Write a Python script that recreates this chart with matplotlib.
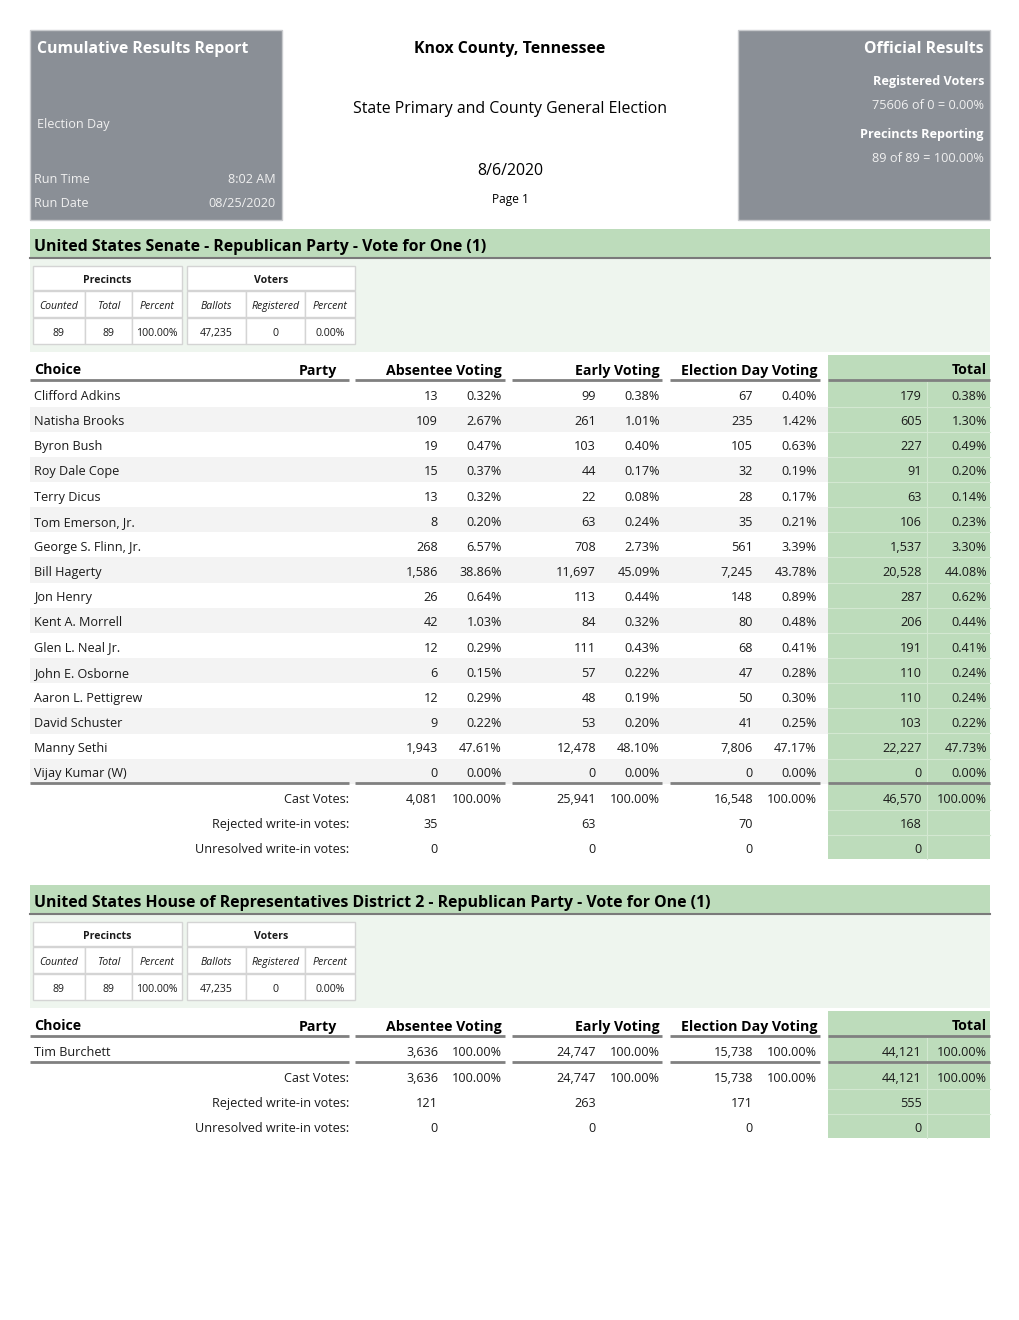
import matplotlib.pyplot as plt
from matplotlib.patches import Rectangle

plt.rcParams['font.family'] = ['Open Sans', 'DejaVu Sans']

# report header
report_title = "Cumulative Results Report"
county = "Knox County, Tennessee"
election_name = "State Primary and County General Election"
election_date = "8/6/2020"
run_time = "8:02 AM"
run_date = "08/25/2020"
registered_text = "75606 of 0 = 0.00%"
precincts_text = "89 of 89 = 100.00%"

# precinct / voter summary (same for both contests)
precinct_vals = ["89", "89", "100.00%"]
voter_vals = ["47,235", "0", "0.00%"]

# contest 1: US Senate
senate_title = "United States Senate - Republican Party - Vote for One (1)"
senate_names = ["Clifford Adkins", "Natisha Brooks", "Byron Bush", "Roy Dale Cope",
                "Terry Dicus", "Tom Emerson, Jr.", "George S. Flinn, Jr.", "Bill Hagerty",
                "Jon Henry", "Kent A. Morrell", "Glen L. Neal Jr.", "John E. Osborne",
                "Aaron L. Pettigrew", "David Schuster", "Manny Sethi", "Vijay Kumar (W)"]
senate_absentee = [13, 109, 19, 15, 13, 8, 268, 1586, 26, 42, 12, 6, 12, 9, 1943, 0]
senate_absentee_pct = [0.32, 2.67, 0.47, 0.37, 0.32, 0.20, 6.57, 38.86, 0.64, 1.03,
                       0.29, 0.15, 0.29, 0.22, 47.61, 0.00]
senate_early = [99, 261, 103, 44, 22, 63, 708, 11697, 113, 84, 111, 57, 48, 53, 12478, 0]
senate_early_pct = [0.38, 1.01, 0.40, 0.17, 0.08, 0.24, 2.73, 45.09, 0.44, 0.32,
                    0.43, 0.22, 0.19, 0.20, 48.10, 0.00]
senate_eday = [67, 235, 105, 32, 28, 35, 561, 7245, 148, 80, 68, 47, 50, 41, 7806, 0]
senate_eday_pct = [0.40, 1.42, 0.63, 0.19, 0.17, 0.21, 3.39, 43.78, 0.89, 0.48,
                   0.41, 0.28, 0.30, 0.25, 47.17, 0.00]
senate_total = [179, 605, 227, 91, 63, 106, 1537, 20528, 287, 206, 191, 110, 110, 103, 22227, 0]
senate_total_pct = [0.38, 1.30, 0.49, 0.20, 0.14, 0.23, 3.30, 44.08, 0.62, 0.44,
                    0.41, 0.24, 0.24, 0.22, 47.73, 0.00]
senate_cast = [4081, 25941, 16548, 46570]
senate_rejected = [35, 63, 70, 168]
senate_unresolved = [0, 0, 0, 0]

# contest 2: US House District 2
house_title = "United States House of Representatives District 2 - Republican Party - Vote for One (1)"
house_names = ["Tim Burchett"]
house_absentee = [3636]
house_absentee_pct = [100.00]
house_early = [24747]
house_early_pct = [100.00]
house_eday = [15738]
house_eday_pct = [100.00]
house_total = [44121]
house_total_pct = [100.00]
house_cast = [3636, 24747, 15738, 44121]
house_rejected = [121, 263, 171, 555]
house_unresolved = [0, 0, 0, 0]

GREY_BOX = '#8a8f96'
GREEN = '#bddcbb'
PALE = '#eef5ee'
TXT = '#1a1a1a'
FS = 9.1
BIG = 11.4

fig = plt.figure(figsize=(10.2, 13.2), dpi=100)
ax = fig.add_axes([0, 0, 1, 1])
ax.set_xlim(0, 1020)
ax.set_ylim(1320, 0)
ax.axis('off')


def txt(x, y, s, ha='left', size=FS, weight='normal', color=TXT, style='normal'):
    ax.text(x, y, s, ha=ha, va='center_baseline', fontsize=size, fontweight=weight,
            color=color, style=style)


# ---- page header ----
for x0 in (30, 738):
    ax.add_patch(Rectangle((x0, 30), 252, 190, facecolor=GREY_BOX,
                           edgecolor='#c9cbce', lw=1))
txt(37, 47, report_title, size=BIG, weight='bold', color='white')
txt(37, 123, "Election Day", color='#f0f0f0')
txt(34, 178, "Run Time", color='#f0f0f0')
txt(276, 178, run_time, ha='right', color='#f0f0f0')
txt(34, 202, "Run Date", color='#f0f0f0')
txt(276, 202, run_date, ha='right', color='#f0f0f0')

txt(984, 47, "Official Results", ha='right', size=BIG, weight='bold', color='white')
txt(984, 80, "Registered Voters", ha='right', size=9.1, weight='bold', color='white')
txt(984, 104, registered_text, ha='right', size=9.2, color='#f0f0f0')
txt(984, 133, "Precincts Reporting", ha='right', size=9.1, weight='bold', color='white')
txt(984, 157, precincts_text, ha='right', size=9.2, color='#f0f0f0')

txt(510, 47, county, ha='center', size=BIG, weight='bold', color='black')
txt(510, 107, election_name, ha='center', size=BIG, color='black')
txt(510, 169, election_date, ha='center', size=BIG, color='black')
txt(510, 198, "Page 1", ha='center', size=8.6, color='black')

# column layout
seg = [(30, 349), (355, 505), (512, 662), (670, 820), (828, 990)]
vote_x = [438, 596, 753, 922]
pct_x = [502, 660, 817, 987]
STEP = 25.15


def summary_box(y0):
    boxes = [((33, 85, 132, 182), "Precincts", ["Counted", "Total", "Percent"], precinct_vals),
             ((187, 246, 305, 355), "Voters", ["Ballots", "Registered", "Percent"], voter_vals)]
    for edges, head, subs, vals in boxes:
        ax.add_patch(Rectangle((edges[0], y0 + 37), edges[-1] - edges[0], 24,
                               facecolor='white', edgecolor='#d4d4d4', lw=1))
        txt((edges[0] + edges[-1]) / 2, y0 + 50, head, ha='center', size=7.6, weight='bold')
        for i in range(3):
            for yy, s, st in [(y0 + 62, subs[i], 'italic'), (y0 + 89, vals[i], 'normal')]:
                ax.add_patch(Rectangle((edges[i], yy), edges[i + 1] - edges[i], 26,
                                       facecolor='white', edgecolor='#d4d4d4', lw=1))
                txt((edges[i] + edges[i + 1]) / 2, yy + 14, s, ha='center', size=7.6, style=st)


def contest(y0, title, names, cols, cast, rejected, unresolved):
    # title bar
    ax.add_patch(Rectangle((30, y0), 960, 29, facecolor=GREEN, lw=0))
    ax.plot([30, 990], [y0 + 29, y0 + 29], color='#7a7a7a', lw=1.5)
    txt(34, y0 + 16, title, size=BIG, weight='bold', color='black')
    ax.add_patch(Rectangle((30, y0 + 30), 960, 93, facecolor=PALE, lw=0))
    summary_box(y0)

    first = y0 + 165
    last = first + STEP * (len(names) - 1)
    bottom = last + 88
    # total column shading
    ax.add_patch(Rectangle((828, y0 + 126), 162, bottom - (y0 + 126), facecolor=GREEN, lw=0))
    ax.plot([927, 927], [y0 + 153, bottom], color='#d3e8d1', lw=0.8)
    rows_y = [first + i * STEP for i in range(len(names))] + [last + 26, last + 51, last + 76]
    for ry in rows_y[:-1]:
        ax.plot([828, 990], [ry + 12.5, ry + 12.5], color='#d3e8d1', lw=0.8)

    # column headings
    hy = y0 + 139
    txt(34, hy + 1, "Choice", size=10.2, weight='bold', color='black')
    txt(337, hy + 1, "Party", ha='right', size=10.2, weight='bold', color='black')
    for x, s in zip(pct_x, ["Absentee Voting", "Early Voting", "Election Day Voting", "Total"]):
        txt(x, hy + 1, s, ha='right', size=10.2, weight='bold', color='black')
    for a, b in seg:
        ax.plot([a, b], [hy + 12, hy + 12], color='#808080', lw=2, solid_capstyle='butt')

    # candidate rows
    for i, name in enumerate(names):
        ry = first + i * STEP
        if i % 2 == 1:
            ax.add_patch(Rectangle((30, ry - STEP / 2), 798, STEP, facecolor='#f3f3f3', lw=0))
        txt(34, ry + 1, name)
        for k, (v, p) in enumerate(cols[i]):
            txt(vote_x[k], ry + 1, f"{v:,}", ha='right')
            txt(pct_x[k], ry + 1, f"{p:.2f}%", ha='right')
    for a, b in seg:
        ax.plot([a, b], [last + 12, last + 12], color='#808080', lw=2, solid_capstyle='butt')

    # footer rows
    for j, (label, vals) in enumerate([("Cast Votes:", cast),
                                       ("Rejected write-in votes:", rejected),
                                       ("Unresolved write-in votes:", unresolved)]):
        ry = last + 26 + j * 25
        txt(349, ry + 1, label, ha='right')
        for k, v in enumerate(vals):
            txt(vote_x[k], ry + 1, f"{v:,}", ha='right')
            if j == 0:
                txt(pct_x[k], ry + 1, "100.00%", ha='right')


senate_cols = [list(zip(a, b)) for a, b in [(senate_absentee, senate_absentee_pct),
                                             (senate_early, senate_early_pct),
                                             (senate_eday, senate_eday_pct),
                                             (senate_total, senate_total_pct)]]
senate_rows = [[c[i] for c in senate_cols] for i in range(len(senate_names))]
house_cols = [list(zip(a, b)) for a, b in [(house_absentee, house_absentee_pct),
                                            (house_early, house_early_pct),
                                            (house_eday, house_eday_pct),
                                            (house_total, house_total_pct)]]
house_rows = [[c[i] for c in house_cols] for i in range(len(house_names))]

contest(229, senate_title, senate_names, senate_rows,
        senate_cast, senate_rejected, senate_unresolved)
contest(885, house_title, house_names, house_rows,
        house_cast, house_rejected, house_unresolved)

fig.savefig('out.png', dpi=100, facecolor='white')
